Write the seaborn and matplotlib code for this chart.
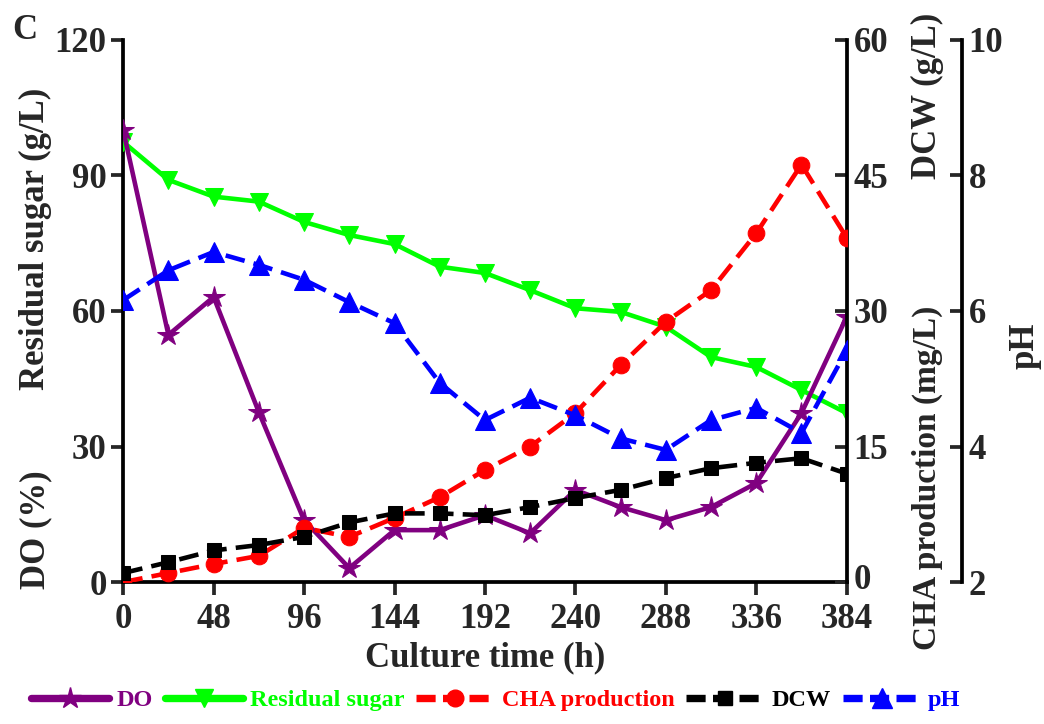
import numpy as np
import pandas as pd
import matplotlib
matplotlib.use("Agg")
import matplotlib.pyplot as plt
import matplotlib.transforms as mtransforms
import seaborn as sns
from matplotlib.lines import Line2D

# ---- data ----
time_h = [0, 24, 48, 72, 96, 120, 144, 168, 192, 216, 240, 264, 288, 312, 336, 360, 384]
do_pct = [100, 54.7, 63.1, 37.6, 13.7, 3.1, 11.5, 11.5, 14.8, 10.8, 20.4, 16.6, 13.7, 16.6, 21.9, 37.4, 58.7]
residual_sugar = [97.4, 89.0, 85.3, 84.2, 79.7, 76.8, 74.8, 69.8, 68.4, 64.6, 60.6, 59.8, 56.5, 49.8, 47.6, 42.5, 37.4]
cha_production = [0.0, 1.0, 2.0, 2.9, 6.0, 5.0, 7.1, 9.4, 12.4, 15.0, 18.7, 24.0, 28.8, 32.3, 38.6, 46.2, 38.1]
dcw = [1.0, 2.2, 3.5, 4.1, 5.0, 6.6, 7.6, 7.6, 7.4, 8.3, 9.3, 10.2, 11.5, 12.6, 13.2, 13.7, 12.0]
ph = [6.16, 6.6, 6.87, 6.68, 6.46, 6.13, 5.82, 4.94, 4.39, 4.72, 4.46, 4.12, 3.95, 4.39, 4.57, 4.2, 5.42]

x_ticks = [0, 48, 96, 144, 192, 240, 288, 336, 384]
left_ticks = [0, 30, 60, 90, 120]
right_ticks = [0, 15, 30, 45, 60]
ph_ticks = [2, 4, 6, 8, 10]

df = pd.DataFrame({"time": time_h, "DO": do_pct, "sugar": residual_sugar,
                   "CHA": cha_production, "DCW": dcw, "pH": ph})

sns.set_style("ticks")
plt.rcParams["font.family"] = ["Liberation Serif", "DejaVu Serif"]
plt.rcParams["font.weight"] = "bold"

fig = plt.figure(figsize=(10.44, 7.24), dpi=100)
ax = fig.add_axes([0.118, 0.196, 0.693, 0.749])
ax2 = ax.twinx()
ax3 = ax.twinx()

LW = 3.3
MS = 12
DASH = (4.3, 2.0)

purple = "#800080"
green = "#00FF00"
red = "#FF0000"
blue = "#0000FF"
black = "#000000"

sns.lineplot(data=df, x="time", y="sugar", ax=ax, color=green, marker="v",
             markersize=MS + 1, markeredgecolor=green, linewidth=LW, zorder=3)
sns.lineplot(data=df, x="time", y="DO", ax=ax, color=purple, marker="*",
             markersize=MS + 4, markeredgecolor=purple, linewidth=LW, zorder=4)
sns.lineplot(data=df, x="time", y="CHA", ax=ax2, color=red, marker="o",
             markersize=MS, markeredgecolor=red, linewidth=LW,
             linestyle=(0, DASH), zorder=3)
sns.lineplot(data=df, x="time", y="DCW", ax=ax2, color=black, marker="s",
             markersize=MS - 2, markeredgecolor=black, linewidth=LW,
             linestyle=(0, DASH), zorder=3)
sns.lineplot(data=df, x="time", y="pH", ax=ax3, color=blue, marker="^",
             markersize=MS + 2, markeredgecolor=blue, linewidth=LW,
             linestyle=(0, DASH), zorder=3)

ax.set_xlim(0, 384)
ax.set_ylim(0, 120)
ax2.set_ylim(0, 60)
ax3.set_ylim(2, 10)
ax.set_xticks(x_ticks)
ax.set_yticks(left_ticks)
ax2.set_yticks(right_ticks)
ax3.set_yticks(ph_ticks)

for a in (ax, ax2, ax3):
    a.set_xlabel("")
    a.set_ylabel("")
    for s in a.spines.values():
        s.set_linewidth(2.7)
        s.set_color("black")
    a.spines["top"].set_visible(False)

ax.spines["right"].set_visible(False)
ax2.spines["left"].set_visible(False)
ax2.spines["bottom"].set_visible(False)
ax3.spines["left"].set_visible(False)
ax3.spines["bottom"].set_visible(False)
ax3.spines["right"].set_position(("axes", 1.159))

TFS = 25
ax.tick_params(axis="y", direction="out", length=9, width=2.7, labelsize=TFS, pad=3)
ax.tick_params(axis="x", direction="out", length=9, width=2.7, labelsize=TFS, pad=6)
ax2.tick_params(axis="y", direction="in", length=9, width=2.7, labelsize=TFS, pad=5)
ax3.tick_params(axis="y", direction="in", length=9, width=2.7, labelsize=TFS, pad=5)
for a in (ax, ax2, ax3):
    for lab in a.get_xticklabels() + a.get_yticklabels():
        lab.set_fontweight("bold")
# nudge the right-axis "0" slightly up so it stays clear of the "384" tick label
zero_lab = ax2.yaxis.get_major_ticks()[0].label2
zero_lab.set_transform(zero_lab.get_transform() +
                       mtransforms.ScaledTranslation(0, 4 / 72, fig.dpi_scale_trans))

ax.set_xlabel("Culture time (h)", fontsize=TFS, fontweight="bold", labelpad=4)

fig.text(0.034, 0.67, "Residual sugar (g/L)", rotation=90, ha="center", va="center",
         fontsize=TFS, fontweight="bold")
fig.text(0.034, 0.268, "DO (%)", rotation=90, ha="center", va="center",
         fontsize=TFS, fontweight="bold")
fig.text(0.888, 0.34, "CHA production (mg/L)", rotation=90, ha="center", va="center",
         fontsize=TFS - 1, fontweight="bold")
fig.text(0.888, 0.868, "DCW (g/L)", rotation=90, ha="center", va="center",
         fontsize=TFS, fontweight="bold")
fig.text(0.982, 0.523, "pH", rotation=90, ha="center", va="center",
         fontsize=TFS, fontweight="bold")
fig.text(0.024, 0.958, "C", ha="center", va="center", fontsize=TFS, fontweight="bold")

dl = (0, (2.6, 1.0))
handles = [
    Line2D([], [], color=purple, marker="*", markersize=MS + 4, linewidth=LW + 2),
    Line2D([], [], color=green, marker="v", markersize=MS + 1, linewidth=LW + 2),
    Line2D([], [], color=red, marker="o", markersize=MS, linewidth=LW + 2, linestyle=dl),
    Line2D([], [], color=black, marker="s", markersize=MS - 2, linewidth=LW + 2, linestyle=dl),
    Line2D([], [], color=blue, marker="^", markersize=MS + 2, linewidth=LW + 2, linestyle=dl),
]
labels = ["DO", "Residual sugar", "CHA production", "DCW", "pH"]
leg = fig.legend(handles, labels, loc="center", bbox_to_anchor=(0.475, 0.033), ncol=5,
                 frameon=False, handlelength=3.2, handletextpad=0.3,
                 columnspacing=0.5, labelcolor=[purple, green, red, black, blue],
                 prop={"weight": "bold", "size": 17.5})

fig.savefig("out.png", dpi=100)
